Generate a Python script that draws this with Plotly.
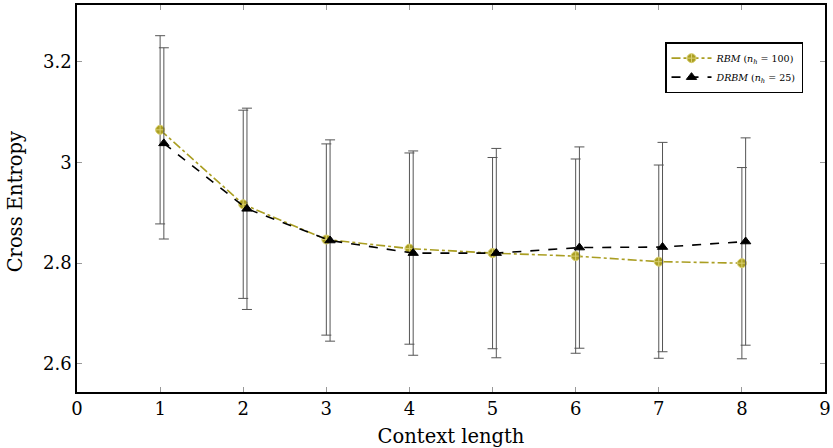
import plotly.graph_objects as go

context = [1, 2, 3, 4, 5, 6, 7, 8]
rbm_mean = [3.065, 2.917, 2.847, 2.829, 2.820, 2.814, 2.803, 2.800]
rbm_err = [0.187, 0.187, 0.190, 0.190, 0.190, 0.193, 0.192, 0.190]
drbm_mean = [3.038, 2.908, 2.845, 2.820, 2.820, 2.831, 2.832, 2.843]
drbm_err = [0.190, 0.200, 0.200, 0.203, 0.208, 0.200, 0.208, 0.206]

x_ticks = [0, 1, 2, 3, 4, 5, 6, 7, 8, 9]
y_ticks = [2.6, 2.8, 3.0, 3.2]
y_ticktext = ["2.6", "2.8", "3", "3.2"]

OLIVE = "#aa9e22"
FONT = "DejaVu Serif"

fig = go.Figure()
fig.add_trace(go.Scatter(
    x=context, y=rbm_mean, mode="lines+markers",
    name="<i>RBM</i> (<i>n<sub>h</sub></i> = 100)",
    line=dict(color=OLIVE, width=1.6, dash="dashdot"),
    marker=dict(symbol="circle-cross", size=9, color=OLIVE,
                line=dict(color="#d8cf70", width=1)),
    error_y=dict(type="data", array=rbm_err, visible=True,
                 color="#555555", thickness=1, width=5),
))
fig.add_trace(go.Scatter(
    x=context, y=drbm_mean, mode="lines+markers", xaxis="x2",
    name="<i>DRBM</i> (<i>n<sub>h</sub></i> = 25)",
    line=dict(color="black", width=1.6, dash="dash"),
    marker=dict(symbol="triangle-up", size=9, color="black",
                line=dict(color="black", width=1)),
    error_y=dict(type="data", array=drbm_err, visible=True,
                 color="#555555", thickness=1, width=5),
))

axis_common = dict(showgrid=False, zeroline=False, showline=True,
                   linecolor="black", linewidth=1.5, mirror="ticks",
                   ticks="inside", ticklen=5, tickcolor="#999999",
                   tickfont=dict(family=FONT, size=18, color="black"))

fig.update_layout(
    width=833, height=448,
    margin=dict(l=77, r=8, t=5, b=56),
    plot_bgcolor="white", paper_bgcolor="white",
    font=dict(family=FONT, color="black"),
    xaxis=dict(range=[0, 9], tickvals=x_ticks,
               title=dict(text="Context length", font=dict(family=FONT, size=19.5), standoff=12),
               automargin=False, **axis_common),
    xaxis2=dict(range=[-0.045, 8.955], overlaying="x", visible=False),
    yaxis=dict(range=[2.544, 3.313], tickvals=y_ticks, ticktext=y_ticktext,
               automargin=False, **axis_common),
    legend=dict(x=0.9706, y=0.904, xanchor="right", yanchor="top",
                bgcolor="white", bordercolor="black", borderwidth=1.5,
                font=dict(family=FONT, size=9.5), tracegroupgap=0,
                itemwidth=40),
    showlegend=True,
    annotations=[dict(text="Cross Entropy", textangle=-90, showarrow=False,
                      xref="paper", yref="paper", x=-0.063, y=0.491,
                      xanchor="right", yanchor="middle",
                      font=dict(family=FONT, size=19.5, color="black"))],
)

fig.write_html("out.html")
